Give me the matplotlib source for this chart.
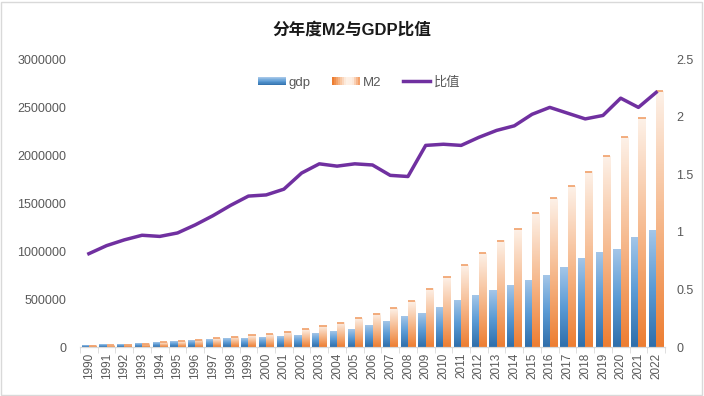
import numpy as np
import matplotlib
matplotlib.use('Agg')
import matplotlib.pyplot as plt
from matplotlib.patches import Rectangle
from matplotlib.colors import LinearSegmentedColormap
from matplotlib.legend_handler import HandlerBase
from matplotlib.lines import Line2D
from matplotlib.ticker import FuncFormatter

plt.rcParams['font.family'] = ['Liberation Sans', 'Noto Sans CJK SC']

# data (亿元)
years = list(range(1990, 2023))
gdp = [18873, 22006, 27195, 35673, 48638, 61340, 71814, 79715, 85196, 90564,
       100280, 110863, 121717, 137422, 161840, 187319, 219439, 270092, 319245, 348518,
       412119, 487940, 538580, 592963, 643563, 688858, 746395, 832036, 919281, 986515,
       1015986, 1143670, 1210207]
m2 = [15293, 19350, 25402, 34880, 46924, 60751, 76095, 90995, 104499, 119898,
      134610, 158302, 185007, 221223, 254107, 298756, 345578, 403442, 475167, 606225,
      725852, 851591, 974149, 1106525, 1228375, 1392278, 1550067, 1676769, 1826744, 1986489,
      2186796, 2382900, 2664321]
ratio = [0.81, 0.88, 0.93, 0.97, 0.96, 0.99, 1.06, 1.14, 1.23, 1.31,
         1.32, 1.37, 1.51, 1.59, 1.57, 1.59, 1.58, 1.49, 1.48, 1.75,
         1.76, 1.75, 1.82, 1.88, 1.92, 2.02, 2.08, 2.03, 1.98, 2.01,
         2.16, 2.08, 2.21]

blue_cmap = LinearSegmentedColormap.from_list('b', ['#a4c6e8', '#5b9bd5', '#2f6eaa'])
orange_cmap = LinearSegmentedColormap.from_list('o', ['#fdf1e8', '#f6b98d', '#ed7d31'])
orange_leg = LinearSegmentedColormap.from_list('ol', ['#ed7d31', '#f6b98d', '#fdf1e8', '#fdeee3', '#f3a06a'])
grad = np.linspace(0, 1, 256).reshape(-1, 1)


class GradHandler(HandlerBase):
    def __init__(self, cmap, horizontal=False):
        super().__init__()
        self.cmap = cmap
        self.horizontal = horizontal

    def create_artists(self, legend, orig_handle, xdescent, ydescent,
                       width, height, fontsize, trans):
        n = 14
        arts = []
        for i in range(n):
            if self.horizontal:
                r = Rectangle((-xdescent + i * width / n, -ydescent), width / n, height,
                              facecolor=self.cmap(i / (n - 1)), lw=0, transform=trans)
            else:
                r = Rectangle((-xdescent, -ydescent + i * height / n), width, height / n,
                              facecolor=self.cmap(1 - i / (n - 1)), lw=0, transform=trans)
            arts.append(r)
        return arts


fig = plt.figure(figsize=(7.04, 3.96), dpi=100)
ax = fig.add_axes([80 / 704, 1 - 347 / 396, 585 / 704, 288 / 396])
ax2 = ax.twinx()

x = np.arange(len(years))
w = 0.41
for xi, g, m in zip(x, gdp, m2):
    ax.imshow(grad, cmap=blue_cmap, extent=(xi - w, xi, 0, g), aspect='auto', zorder=2)
    ax.imshow(grad, cmap=orange_cmap, extent=(xi, xi + w, 0, m), aspect='auto', zorder=2)
ax.hlines(m2, x, x + w, color='#f0a06a', lw=1.2, zorder=3)

ax.set_xlim(-0.5, len(years) - 0.5)
ax.set_ylim(0, 3000000)
ax.set_yticks(np.arange(0, 3000001, 500000))
ax.yaxis.set_major_formatter(FuncFormatter(lambda v, p: f'{int(v)}'))
ax.set_xticks(x)
ax.set_xticklabels([str(y) for y in years], rotation=90, fontsize=8.5, color='#595959')
ax.set_xticks(np.arange(-0.5, len(years)), minor=True)
ax.tick_params(axis='x', which='major', length=0, pad=4)
ax.tick_params(axis='x', which='minor', length=4, color='#d9d9d9')
ax.tick_params(axis='y', length=0, labelsize=9, labelcolor='#595959', pad=10)

ax2.plot(x, ratio, color='#7030a0', lw=2.5, zorder=5)
ax2.set_ylim(0, 2.5)
ax2.set_yticks([0, 0.5, 1, 1.5, 2, 2.5])
ax2.yaxis.set_major_formatter(FuncFormatter(lambda v, p: f'{v:g}'))
ax2.tick_params(axis='y', length=0, labelsize=9, labelcolor='#595959', pad=8)

for a in (ax, ax2):
    for s in ('top', 'left', 'right'):
        a.spines[s].set_visible(False)
    a.spines['bottom'].set_color('#d9d9d9')

h_gdp = Rectangle((0, 0), 1, 1)
h_m2 = Rectangle((0, 0), 1, 1)
h_line = Line2D([], [], color='#7030a0', lw=2.5)
ax2.legend([h_gdp, h_m2, h_line], ['gdp', 'M2', '比值'],
           handler_map={h_gdp: GradHandler(blue_cmap),
                        h_m2: GradHandler(orange_leg, horizontal=True)},
           loc='center', bbox_to_anchor=(0.477, 0.918), ncol=3, frameon=False,
           fontsize=9.5, labelcolor='#595959', handlelength=2.1, handleheight=0.6,
           columnspacing=1.6, handletextpad=0.25)

fig.text(0.5, 1 - 30 / 396, '分年度M2与GDP比值', ha='center', va='center',
         fontsize=12, fontweight='bold', color='#1a1a1a')
fig.patches.append(Rectangle((0.002, 0.003), 0.995, 0.993, transform=fig.transFigure,
                             fill=False, edgecolor='#d9d9d9', lw=1))

fig.savefig('out.png', dpi=100)
